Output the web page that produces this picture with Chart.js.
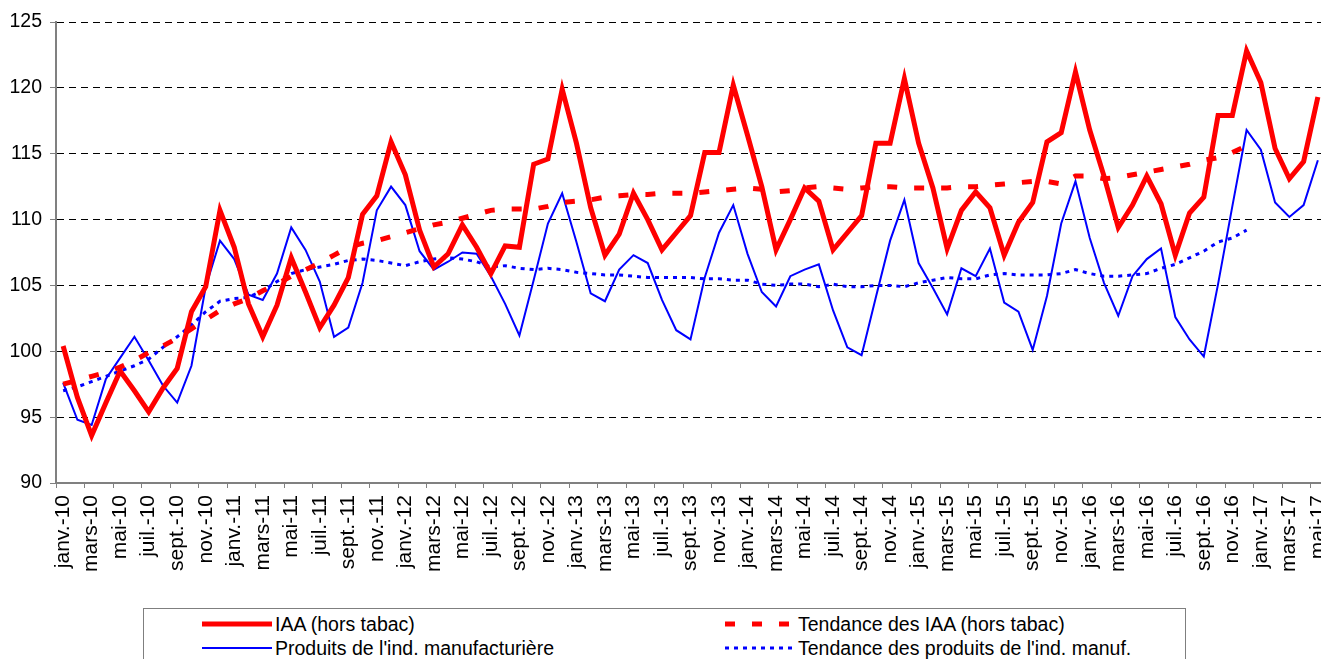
<!DOCTYPE html>
<html lang="fr">
<head>
<meta charset="utf-8">
<title>IAA et industrie manufacturière</title>
<script src="https://cdn.jsdelivr.net/npm/chart.js@4.4.1/dist/chart.umd.min.js"></script>
<style>
  html, body { margin: 0; padding: 0; background: #fff; overflow: hidden; }
  body { width: 1321px; height: 659px; position: relative; font-family: "Liberation Sans", Arial, sans-serif; }
  #graphique { position: absolute; left: 0; top: 0; }
  #legende { position: absolute; left: 143px; top: 608px; width: 1043px; height: 70px; border: 1px solid #7f7f7f; box-sizing: border-box; background: #fff; }
  .item { position: absolute; height: 20px; display: flex; align-items: center; font-size: 19.5px; color: #000; white-space: nowrap; }
  .item svg { margin-right: 3px; }
</style>
</head>
<body>
<canvas id="graphique" width="1326" height="600"></canvas>
<div id="legende"></div>
<script>
// Libellés des mois (un sur deux est affiché sur l'axe)
const mois = ['janv.', 'févr.', 'mars', 'avr.', 'mai', 'juin', 'juil.', 'août', 'sept.', 'oct.', 'nov.', 'déc.'];
const annees = ['10', '11', '12', '13', '14', '15', '16', '17'];
const categories = [];
annees.forEach(a => mois.forEach(m => categories.push(m + '-' + a)));
categories.length = 89; // de janv.-10 à mai-17

// IAA (hors tabac)
const iaa = [100.4, 96.5, 93.6, 96.1, 98.5, 97.0, 95.4, 97.2, 98.7, 103.0,
  104.9, 110.7, 107.9, 103.6, 101.1, 103.5, 107.1, 104.5, 101.8, 103.5,
  105.6, 110.4, 111.8, 115.9, 113.4, 109.2, 106.4, 107.4, 109.6, 107.9,
  105.9, 108.0, 107.9, 114.2, 114.6, 119.9, 115.8, 110.9, 107.3, 108.9,
  112.0, 110.0, 107.7, 109.0, 110.3, 115.1, 115.1, 120.2, 116.4, 112.5,
  107.7, 110.0, 112.4, 111.4, 107.7, 109.0, 110.3, 115.8, 115.8, 120.7,
  115.8, 112.4, 107.8, 110.7, 112.1, 110.9, 107.3, 109.8, 111.3, 115.9,
  116.6, 121.2, 116.8, 113.3, 109.4, 111.1, 113.3, 111.2, 107.3, 110.5,
  111.7, 117.9, 117.9, 122.8, 120.4, 115.4, 113.1, 114.4, 119.3];

// Tendance des IAA (hors tabac), jusqu'à déc.-16
const tendanceIaa = [97.5, 97.8, 98.1, 98.4, 98.8, 99.3, 99.9, 100.4, 101.0, 101.7,
  102.4, 103.1, 103.6, 104.0, 104.6, 105.1, 105.7, 106.2, 106.7, 107.3,
  107.9, 108.2, 108.4, 108.7, 109.0, 109.3, 109.6, 109.8, 110.1, 110.4,
  110.7, 110.8, 110.8, 110.8, 111.0, 111.3, 111.4, 111.5, 111.7, 111.8,
  111.9, 111.9, 112.0, 112.0, 112.0, 112.1, 112.2, 112.3, 112.4, 112.3,
  112.1, 112.2, 112.4, 112.5, 112.4, 112.3, 112.4, 112.5, 112.5, 112.4,
  112.4, 112.4, 112.4, 112.5, 112.5, 112.6, 112.7, 112.8, 112.9, 112.9,
  112.7, 113.3, 113.3, 113.1, 113.2, 113.4, 113.6, 113.8, 114.0, 114.2,
  114.5, 114.7, 115.1, 115.6];

// Produits de l'industrie manufacturière
const manuf = [97.6, 94.8, 94.4, 97.9, 99.5, 101.1, 99.3, 97.4, 96.1, 98.9,
  104.9, 108.4, 107.0, 104.3, 103.9, 105.9, 109.4, 107.7, 105.3, 101.1,
  101.8, 105.2, 110.7, 112.5, 111.1, 107.6, 106.2, 106.8, 107.5, 107.4,
  105.7, 103.6, 101.2, 105.4, 109.7, 112.0, 108.3, 104.4, 103.8, 106.2,
  107.3, 106.7, 103.9, 101.6, 100.9, 105.6, 109.0, 111.1, 107.4, 104.5,
  103.4, 105.7, 106.2, 106.6, 103.1, 100.3, 99.7, 104.1, 108.4, 111.5,
  106.7, 104.8, 102.8, 106.3, 105.7, 107.8, 103.7, 103.0, 100.1, 104.2,
  109.7, 112.9, 108.6, 105.2, 102.7, 105.7, 107.0, 107.8, 102.6, 100.9,
  99.6, 105.1, 111.0, 116.8, 115.3, 111.3, 110.2, 111.1, 114.5];

// Tendance des produits de l'ind. manuf., jusqu'à déc.-16
const tendanceManuf = [97.0, 97.3, 97.7, 98.1, 98.5, 98.9, 99.4, 100.3, 101.1, 102.0,
  103.0, 103.8, 104.0, 104.1, 104.6, 105.3, 105.9, 106.2, 106.4, 106.6,
  106.9, 107.0, 106.9, 106.7, 106.5, 106.8, 107.0, 107.1, 107.0, 106.8,
  106.4, 106.5, 106.3, 106.2, 106.3, 106.2, 106.0, 105.9, 105.8, 105.8,
  105.7, 105.6, 105.6, 105.6, 105.6, 105.5, 105.5, 105.4, 105.4, 105.1,
  105.0, 105.1, 105.1, 104.9, 105.1, 104.9, 104.9, 105.0, 105.0, 104.9,
  105.2, 105.4, 105.6, 105.5, 105.5, 105.8, 105.9, 105.8, 105.8, 105.8,
  105.9, 106.2, 105.9, 105.7, 105.7, 105.8, 105.9, 106.3, 106.6, 107.1,
  107.6, 108.3, 108.6, 109.2];

// Graduations de l'axe vertical
const yMin = 90;
const yMax = 125;
const yPas = 5;

const police = '"Liberation Sans", Arial, sans-serif';

const series = [
  { label: 'IAA (hors tabac)', data: iaa, borderColor: '#ff0000', borderWidth: 5 },
  { label: 'Tendance des IAA (hors tabac)', data: tendanceIaa, borderColor: '#ff0000', borderWidth: 5, borderDash: [10, 17] },
  { label: "Produits de l'ind. manufacturière", data: manuf, borderColor: '#0000ff', borderWidth: 2 },
  { label: "Tendance des produits de l'ind. manuf.", data: tendanceManuf, borderColor: '#0000ff', borderWidth: 3, borderDash: [4, 5] }
];

const graphique = new Chart(document.getElementById('graphique'), {
  type: 'line',
  data: {
    labels: categories,
    datasets: series.map(s => Object.assign({ fill: false, pointRadius: 0, tension: 0 }, s))
  },
  options: {
    responsive: false,
    animation: false,
    layout: { padding: { top: 22, right: 1, left: 0, bottom: 0 } },
    plugins: { legend: { display: false }, tooltip: { enabled: false } },
    scales: {
      x: {
        offset: true,
        grid: {
          offset: true,
          drawOnChartArea: false,
          drawTicks: true,
          tickLength: 5,
          tickWidth: 1,
          tickColor: ctx => (ctx.index % 2 === 0 ? '#808080' : 'rgba(0,0,0,0)')
        },
        border: { color: '#808080', width: 2 },
        ticks: {
          autoSkip: false,
          maxRotation: 90,
          minRotation: 90,
          padding: 7,
          color: '#000',
          font: { family: police, size: 21 },
          callback: (v, i) => (i % 2 === 0 ? categories[i] : '')
        },
        afterFit: s => { s.height = 117; s.paddingLeft = 0; s.paddingRight = 0; }
      },
      y: {
        min: yMin,
        max: yMax,
        ticks: { stepSize: yPas, color: '#000', padding: 8, font: { family: police, size: 19.5 } },
        grid: { color: '#000', lineWidth: 1, drawTicks: true, tickLength: 6, tickColor: '#808080' },
        border: { color: '#808080', width: 2, dash: [7, 5] },
        afterFit: s => { s.width = 56; }
      }
    }
  }
});

// Légende en deux colonnes dans un cadre, comme dans l'original
function construireLegende(chart) {
  const boite = document.getElementById('legende');
  chart.data.datasets.forEach((ds, i) => {
    const col = i % 2;
    const ligne = Math.floor(i / 2);
    const item = document.createElement('div');
    item.className = 'item';
    item.style.left = (col === 0 ? 58 : 581) + 'px';
    item.style.top = (5 + ligne * 24) + 'px';
    const dash = ds.borderDash ? ds.borderDash.join(' ') : 'none';
    item.innerHTML = '<svg width="70" height="10"><line x1="0" y1="5" x2="70" y2="5" stroke="' + ds.borderColor +
      '" stroke-width="' + ds.borderWidth + '" stroke-dasharray="' + dash + '"/></svg>';
    const texte = document.createElement('span');
    texte.textContent = ds.label;
    item.appendChild(texte);
    boite.appendChild(item);
  });
}
construireLegende(graphique);
</script>
</body>
</html>
